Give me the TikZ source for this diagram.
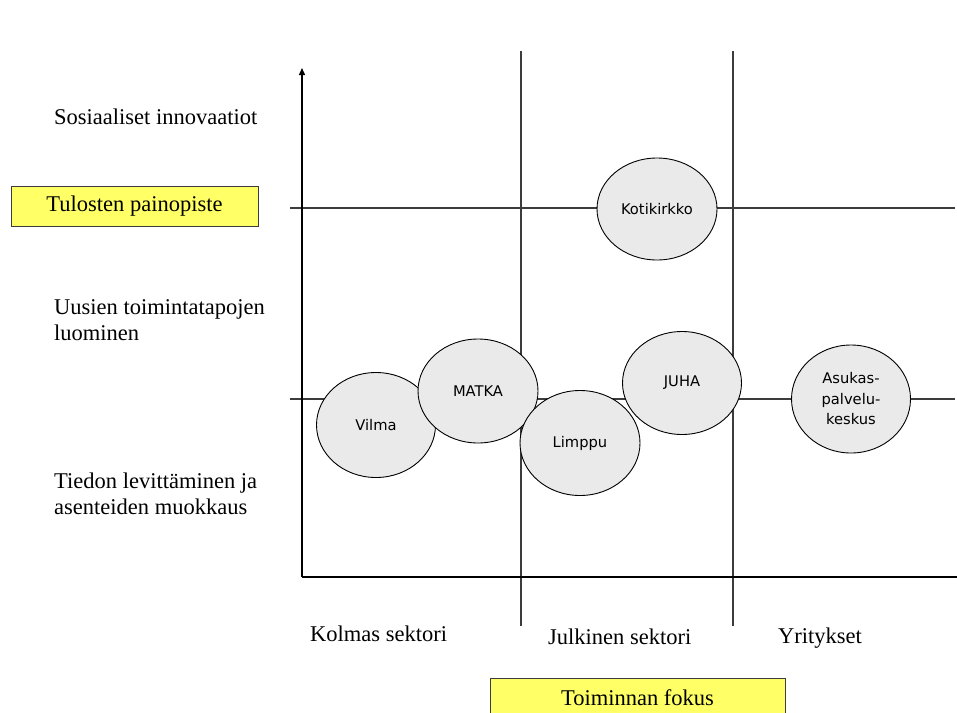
\documentclass[tikz,border=0pt]{standalone}
\usepackage{fontspec}
\setmainfont{Liberation Serif}
\newfontfamily\bubblefont{DejaVu Sans}
\usetikzlibrary{shapes.geometric,arrows.meta}
\definecolor{labelyellow}{RGB}{255,255,102}
\definecolor{bubblefill}{RGB}{234,234,234}
\definecolor{gridgray}{RGB}{60,60,60}
\tikzset{
  axisline/.style={line width=1.3pt,black},
  gridline/.style={line width=1.1pt,gridgray},
  rowlabel/.style={font=\fontsize{22.5}{26.5}\selectfont,align=left,anchor=west,inner sep=0pt},
  keybox/.style={draw=gridgray,line width=0.9pt,fill=labelyellow,font=\fontsize{22.5}{26.5}\selectfont,inner sep=0pt},
  bubble/.style={ellipse,draw=black,line width=0.9pt,fill=bubblefill,inner sep=0pt,
    font=\bubblefont\fontsize{14.7}{20.5}\selectfont,align=center},
}
\begin{document}
\begin{tikzpicture}[x=1pt,y=-1pt]
\useasboundingbox (0,0) rectangle (957,712);
\begin{scope}
\clip (0,0) rectangle (957,712);

% grid lines splitting the chart
\draw[gridline] (521,51) -- (521,626);
\draw[gridline] (733,51) -- (733,626);
\draw[gridline] (290,208) -- (955,208);
\draw[gridline] (290,399) -- (955,399);

% axes
\coordinate (origin) at (302,577);
\coordinate (ytip) at (302,68);
\coordinate (xend) at (957,577);
\draw[axisline,-{Triangle[length=7pt,width=6pt]}] (origin) -- (ytip);
\draw[axisline] (origin) -- (xend);

% row labels
\node[rowlabel] (sos) at (54,117) {Sosiaaliset innovaatiot};
\node[rowlabel] (uus) at (54,320) {Uusien toimintatapojen\\luominen};
\node[rowlabel] (tie) at (54,494) {Tiedon levittäminen ja\\asenteiden muokkaus};

% column labels
\node[rowlabel] (kol) at (310,634) {Kolmas sektori};
\node[rowlabel] (jul) at (548,637) {Julkinen sektori};
\node[rowlabel] (yri) at (778,638) {Yritykset};

% axis titles
\node[keybox,minimum width=247pt,minimum height=40pt] (tulos) at (134.5,206) {Tulosten painopiste};
\node[keybox,minimum width=295pt,minimum height=44pt,text depth=0pt] (fokus) at (637.5,700) {\raisebox{4pt}{Toiminnan fokus}};

% projects
\node[bubble,minimum width=120pt,minimum height=102pt] (koti) at (657,209) {Kotikirkko};
\node[bubble,minimum width=119pt,minimum height=105pt] (vilma) at (376,425) {Vilma};
\node[bubble,minimum width=120pt,minimum height=104pt] (matka) at (478,391) {MATKA};
\node[bubble,minimum width=119pt,minimum height=103pt] (juha) at (682,383) {JUHA};
\node[bubble,minimum width=120pt,minimum height=105pt] (limppu) at (580,443) {Limppu};
\node[bubble,minimum width=119pt,minimum height=108pt] (asukas) at (851,399) {Asukas-\\palvelu-\\keskus};
\end{scope}
\end{tikzpicture}
\end{document}
